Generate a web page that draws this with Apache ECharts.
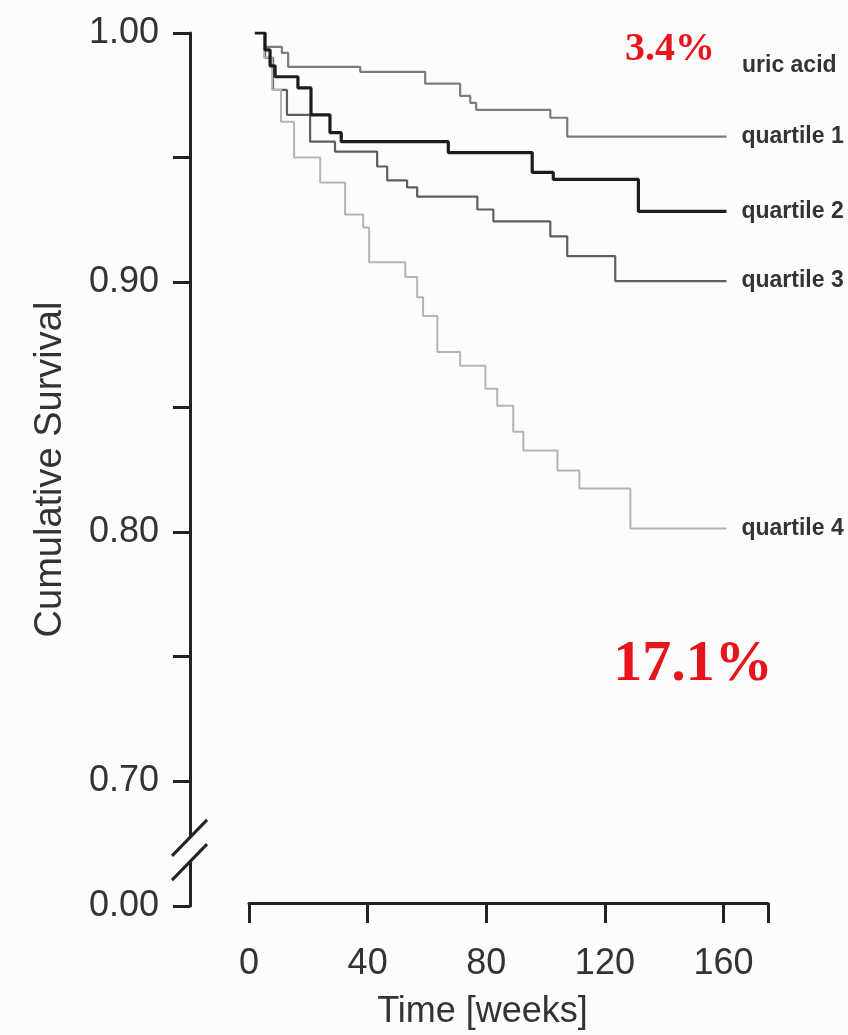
<!DOCTYPE html>
<html>
<head>
<meta charset="utf-8">
<script src="https://cdn.jsdelivr.net/npm/echarts@6/dist/echarts.min.js"></script>
<style>
  html, body { margin: 0; padding: 0; background: #fcfcfc; }
  #chart { width: 848px; height: 1035px; }
</style>
</head>
<body>
<div id="chart"></div>
<script>
// ---- data (weeks, cumulative survival) ----
const seriesNames = ['quartile 1', 'quartile 2', 'quartile 3', 'quartile 4'];
const weeksQ1 = [2.0, 5.4, 11.1, 13.2, 37.5, 59.4, 71.2, 74.6, 76.6, 101.6, 107.3, 161];
const survQ1  = [1.000, 0.9944, 0.9920, 0.9864, 0.9844, 0.9796, 0.9747, 0.9719, 0.9691, 0.9659, 0.9583, 0.9583];
const weeksQ2 = [2.0, 5.4, 7.1, 8.8, 16.5, 20.9, 27.3, 31.1, 67.2, 95.5, 102.6, 131.3, 161];
const survQ2  = [1.000, 0.9932, 0.9868, 0.9824, 0.9779, 0.9671, 0.9599, 0.9563, 0.9519, 0.9439, 0.9411, 0.9282, 0.9282];
const weeksQ3 = [2.0, 5.4, 8.1, 12.8, 20.6, 29.0, 43.2, 46.6, 53.3, 56.7, 77.0, 82.4, 101.6, 107.3, 123.5, 161];
const survQ3  = [1.000, 0.9900, 0.9771, 0.9671, 0.9563, 0.9523, 0.9463, 0.9407, 0.9379, 0.9342, 0.9290, 0.9242, 0.9182, 0.9102, 0.9002, 0.9002];
const weeksQ4 = [2.0, 5.1, 7.8, 10.8, 15.2, 24.0, 32.4, 38.5, 40.5, 52.7, 56.7, 58.7, 63.5, 71.2, 79.7, 83.7, 89.1, 92.5, 104.0, 111.4, 128.6, 161];
const survQ4  = [1.000, 0.9900, 0.9771, 0.9643, 0.9499, 0.9399, 0.9270, 0.9218, 0.9078, 0.9018, 0.8937, 0.8861, 0.8717, 0.8661, 0.8569, 0.8500, 0.8396, 0.8320, 0.8240, 0.8168, 0.8007, 0.8007];

const xTicks = [0, 40, 80, 120, 160];
// y axis is broken: the bottom position (0.65 on the drawing scale) is labelled 0.00
const yTickValues = [0.65, 0.70, 0.80, 0.90, 1.00];
const yTickLabels = ['0.00', '0.70', '0.80', '0.90', '1.00'];
const groupTitle = 'uric acid';
const noteTop = '3.4%';
const noteBottom = '17.1%';

const colors = ['#7c7c7c', '#1c1c1c', '#5e5e5e', '#b4b4b4'];
const widths = [2.2, 3.2, 2.2, 2];

function pairs(w, s) { return w.map((x, i) => [x, s[i]]); }
const allData = [pairs(weeksQ1, survQ1), pairs(weeksQ2, survQ2), pairs(weeksQ3, survQ3), pairs(weeksQ4, survQ4)];

const chart = echarts.init(document.getElementById('chart'), null, { renderer: 'canvas' });
const font = 'Liberation Sans';
const Y_MIN = 0.65, Y_MAX = 1.0;

const option = {
  backgroundColor: '#fcfcfc',
  animation: false,
  grid: [
    { left: 249, right: 80, top: 33, bottom: 129, containLabel: false },   // plot + time axis
    { left: 190, width: 1, top: 33, bottom: 129, containLabel: false }     // detached survival axis
  ],
  xAxis: [{
    gridIndex: 0, type: 'value', min: 0, max: 175, interval: 40,
    name: 'Time [weeks]', nameLocation: 'middle', nameGap: 91,
    nameTextStyle: { fontFamily: font, fontSize: 36, color: '#333', padding: [0, 52, 0, 0] },
    axisLine: { show: true, onZero: false, lineStyle: { color: '#222', width: 3 } },
    axisTick: { show: true, inside: false, length: 20, lineStyle: { color: '#222', width: 3 } },
    axisLabel: { fontFamily: font, fontSize: 36, color: '#333', margin: 43,
      formatter: v => (xTicks.indexOf(v) >= 0 ? String(v) : '') },
    splitLine: { show: false }
  }, {
    gridIndex: 1, type: 'value', min: 0, max: 1, show: false
  }],
  yAxis: [{
    gridIndex: 0, type: 'value', min: Y_MIN, max: Y_MAX, show: false
  }, {
    gridIndex: 1, type: 'value', min: Y_MIN, max: Y_MAX, interval: 0.05,
    name: 'Cumulative Survival', nameLocation: 'middle', nameGap: 120,
    nameTextStyle: { fontFamily: font, fontSize: 38, color: '#333' },
    axisLine: { show: true, lineStyle: { color: '#222', width: 3 } },
    axisTick: { show: true, inside: false, length: 17, lineStyle: { color: '#222', width: 3 } },
    axisLabel: { fontFamily: font, fontSize: 36, color: '#333', margin: 31,
      formatter: v => {
        const i = yTickValues.findIndex(t => Math.abs(t - v) < 1e-6);
        return i >= 0 ? yTickLabels[i] : '';
      } },
    splitLine: { show: false }
  }],
  series: seriesNames.map((n, i) => ({
    name: n, type: 'line', step: 'end', symbol: 'none', data: allData[i],
    xAxisIndex: 0, yAxisIndex: 0,
    z: i === 1 ? 5 : 3,
    lineStyle: { color: colors[i], width: widths[i] },
    endLabel: { show: true, formatter: '{a}', distance: 15, fontFamily: font,
      fontSize: 23, fontWeight: 'bold', color: '#333' }
  }))
};
chart.setOption(option);

// break marks on the y axis, positioned through the axis scale
const ax = chart.convertToPixel({ gridIndex: 1 }, [0, Y_MIN])[0];
const yA = chart.convertToPixel({ yAxisIndex: 1 }, 0.6773);
const yB = chart.convertToPixel({ yAxisIndex: 1 }, 0.6676);
const yTopPx = chart.convertToPixel({ yAxisIndex: 0 }, 1.0);
chart.setOption({
  graphic: [
    { type: 'rect', z: 100, shape: { x: ax - 4, y: yA, width: 8, height: yB - yA }, style: { fill: '#fcfcfc' } },
    { type: 'line', z: 101, shape: { x1: ax - 18, y1: yA + 18, x2: ax + 17, y2: yA - 18 }, style: { stroke: '#222', lineWidth: 3 } },
    { type: 'line', z: 101, shape: { x1: ax - 18, y1: yB + 18, x2: ax + 17, y2: yB - 18 }, style: { stroke: '#222', lineWidth: 3 } },
    { type: 'text', z: 101, x: 742, y: yTopPx + 33, style: { text: groupTitle, fontFamily: font, fontSize: 23, fontWeight: 'bold', fill: '#333', verticalAlign: 'middle' } },
    { type: 'text', z: 101, x: 670, y: 50, style: { text: noteTop, fontFamily: 'Liberation Serif', fontSize: 40, fontWeight: 'bold', fill: '#e8141b', align: 'center', verticalAlign: 'middle' } },
    { type: 'text', z: 101, x: 693, y: 665, style: { text: noteBottom, fontFamily: 'Liberation Serif', fontSize: 58, fontWeight: 'bold', fill: '#e8141b', align: 'center', verticalAlign: 'middle' } }
  ]
});
</script>
</body>
</html>
